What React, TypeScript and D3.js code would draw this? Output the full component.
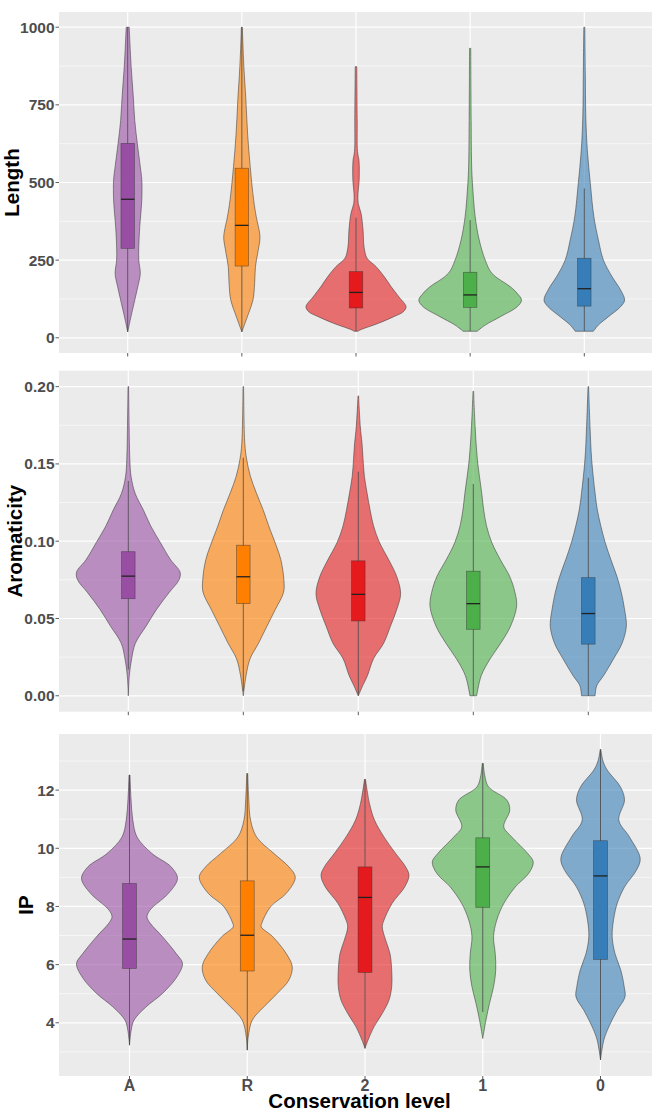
import React from "react";
import * as d3 from "d3";

const CATS = ["A", "R", "2", "1", "0"];
const COLORS = ["#984EA3", "#FF7F00", "#E41A1C", "#4DAF4A", "#377EB8"];

// ---- Length: violin profiles [value, density] ----
const lenA = [[19,0],[57,2.5],[79,4],[121,7],[164,10],[207,12.5],[250,11],[293,11],[358,12],[444,14],[508,14],[551,12.5],[627,9.5],[700,7],[780,5.5],[870,3.5],[950,2.2],[1000,1.5]];
const lenR = [[19,0],[46,3],[79,6.7],[121,11],[175,12.7],[229,13.5],[272,15.7],[320,18],[340,17.5],[390,14.3],[444,11.7],[551,8.3],[658,5.7],[766,4],[873,2],[950,1],[1000,0.5]];
const len2 = [[21,2],[25,4],[46,21.7],[68,37.5],[84,47],[100,49.7],[132,42.5],[164,35],[197,28],[229,20],[256,11],[293,8],[347,7],[401,5],[433,2.2],[465,2],[500,3],[530,3.3],[570,3],[600,1.5],[700,1.2],[873,0.8]];
const len1 = [[21,7],[41,15],[68,30],[100,46.7],[121,51],[143,46.7],[164,40],[207,21.7],[250,15],[315,9],[390,5],[497,2.3],[551,1.5],[700,1],[932,0.6]];
const len0 = [[21,9],[41,14],[68,24],[100,36],[121,40],[154,36],[197,27.5],[250,19],[315,14],[390,9.5],[497,6],[605,3],[712,1.5],[850,1],[1000,0.5]];
// box stats: [whiskerLow, q1, median, q3, whiskerHigh]
const lenBox = [[19,288,446,626,1000],[19,231,362,546,1000],[21,96,146,213,387],[21,98,138,211,379],[21,102,158,256,481]];
const lenTicks = [0, 250, 500, 750, 1000];
const lenMinor = [125, 375, 625, 875];

// ---- Aromaticity ----
const aroA = [[0,0],[0.013,1],[0.024,3.3],[0.034,7],[0.045,17.5],[0.056,28],[0.067,40.5],[0.075,50],[0.080,51],[0.088,41.7],[0.099,31.7],[0.110,22],[0.120,15],[0.131,6.7],[0.142,2.7],[0.153,1.5],[0.175,0.8],[0.2,0.3]];
const aroR = [[0,0],[0.013,2.7],[0.024,6.7],[0.034,15],[0.045,23.3],[0.056,31.7],[0.067,39.7],[0.075,40],[0.088,37],[0.097,32.5],[0.110,25],[0.120,19.7],[0.131,13],[0.142,7],[0.153,3.3],[0.163,1.5],[0.2,0.3]];
const aro2 = [[0,0],[0.0065,4.3],[0.013,9],[0.024,15],[0.034,25],[0.045,31.7],[0.056,38],[0.066,41.7],[0.077,38],[0.088,30],[0.099,21],[0.110,15],[0.120,11.7],[0.131,8.7],[0.142,6],[0.153,4.7],[0.163,3.7],[0.174,2],[0.194,0.3]];
const aro1 = [[0,3.3],[0.013,7.8],[0.024,16.7],[0.034,27],[0.045,36.7],[0.058,42.7],[0.067,41],[0.077,36],[0.088,26.7],[0.099,18.3],[0.110,13],[0.120,10.3],[0.131,8.3],[0.153,4],[0.174,1.8],[0.197,0.3]];
const aro0 = [[0,6.7],[0.0065,8.3],[0.013,15],[0.024,25],[0.034,33.3],[0.045,37.5],[0.056,35.7],[0.067,32.5],[0.077,28.3],[0.088,22.3],[0.099,16.7],[0.110,12.3],[0.120,9],[0.131,6.7],[0.153,3.3],[0.174,1.7],[0.2,0.3]];
const aroBox = [[0.017,0.0628,0.0774,0.0932,0.139],[0.003,0.0596,0.077,0.0974,0.154],[0,0.0484,0.0656,0.0873,0.145],[0,0.043,0.0596,0.0806,0.137],[0,0.0334,0.0532,0.0764,0.141]];
const aroTicks = [0, 0.05, 0.1, 0.15, 0.2];
const aroMinor = [0.025, 0.075, 0.125, 0.175];

// ---- IP ----
const ipA = [[3.23,0],[3.75,1.7],[4.09,4.5],[4.55,16.7],[5.01,33],[5.58,47.5],[6.04,53],[6.38,46.7],[6.96,33],[7.42,20.8],[7.64,17.5],[7.85,20],[7.99,23.7],[8.45,39],[8.96,48],[9.36,41.7],[9.82,22.5],[10.39,7.5],[10.97,3.3],[11.7,1.5],[12.52,0.5]];
const ipR = [[3.06,0],[3.52,1],[4.09,5],[4.55,16.7],[5.01,30],[5.47,41.7],[5.93,45],[6.38,39],[6.96,25.5],[7.3,14],[7.42,14.5],[7.99,23.3],[8.45,39],[9.0,48],[9.36,41.7],[9.82,26.7],[10.39,9.3],[10.97,3.3],[11.7,1.5],[12.57,0.5]];
const ip2 = [[3.12,0],[3.40,3],[3.86,9],[4.32,17.3],[4.78,24],[5.24,26.7],[5.81,26.7],[6.38,25],[6.84,20.7],[7.3,17.3],[7.53,19],[8.1,27],[8.67,39.7],[9.07,44],[9.36,40.7],[9.82,30.7],[10.39,19],[10.97,9.5],[11.54,4.5],[12.37,0.5]];
const ip1 = [[3.46,0],[4.09,3.2],[4.66,6.7],[5.24,10.8],[5.81,13],[6.38,12.5],[6.96,10.8],[7.53,14],[8.1,21],[8.67,32.5],[9.14,46],[9.53,50.5],[9.82,45],[10.39,29],[10.74,21],[11.31,27],[11.66,24],[12.11,5.8],[12.5,2],[12.92,0.5]];
const ip0 = [[2.72,0],[3.40,3.3],[3.86,8.3],[4.43,16.7],[4.89,24.5],[5.24,23.7],[5.81,20.3],[6.38,14.5],[6.96,11.7],[7.53,13],[8.1,16.7],[8.67,24],[9.25,36],[9.65,39.7],[10.39,29],[10.97,18.3],[11.66,24],[12.11,20],[12.69,6.7],[13.0,2.5],[13.40,0.3]];
const ipBox = [[3.23,5.87,6.88,8.79,12.52],[3.06,5.78,7.01,8.88,12.57],[3.12,5.73,8.31,9.36,12.37],[4.37,7.97,9.36,10.36,12.92],[2.72,6.18,9.05,10.26,13.40]];
const ipTicks = [4, 6, 8, 10, 12];
const ipMinor = [3, 5, 7, 9, 11, 13];

const PANELS = [
  { title: "Length", violins: [lenA, lenR, len2, len1, len0], box: lenBox, ticks: lenTicks, minor: lenMinor, fmt: (v: number) => String(v),
    yDom: [-49, 1049], top: 12, bottom: 353, xr: [127.7, 584.3], dmax: 51, titleX: 19 },
  { title: "Aromaticity", violins: [aroA, aroR, aro2, aro1, aro0], box: aroBox, ticks: aroTicks, minor: aroMinor, fmt: (v: number) => v.toFixed(2),
    yDom: [-0.0103, 0.2103], top: 370.7, bottom: 711.7, xr: [128.3, 588.3], dmax: 51, titleX: 22 },
  { title: "IP", violins: [ipA, ipR, ip2, ip1, ip0], box: ipBox, ticks: ipTicks, minor: ipMinor, fmt: (v: number) => String(v),
    yDom: [2.17, 13.93], top: 734, bottom: 1076, xr: [129.5, 600.5], dmax: 53, titleX: 33 },
];

const LEFT = 59;
const RIGHT = 652;
const FONT = "'Liberation Sans', Arial, Helvetica, sans-serif";

function Panel({ p, last }: { p: any; last: boolean }) {
  const y = d3.scaleLinear().domain(p.yDom).range([p.bottom, p.top]);
  const x = d3.scalePoint<string>().domain(CATS).range(p.xr);
  const step = x.step();
  const w = d3.scaleLinear().domain([0, p.dmax]).range([0, 0.45 * step]);
  const bw = 0.118 * step;
  const mid = (p.top + p.bottom) / 2;
  return (
    <g>
      <rect x={LEFT} y={p.top} width={RIGHT - LEFT} height={p.bottom - p.top} fill="#EBEBEB" />
      {p.minor.map((v: number) => (
        <line key={"mn" + v} x1={LEFT} x2={RIGHT} y1={y(v)} y2={y(v)} stroke="#fff" strokeWidth={0.6} />
      ))}
      {p.ticks.map((v: number) => (
        <line key={"mj" + v} x1={LEFT} x2={RIGHT} y1={y(v)} y2={y(v)} stroke="#fff" strokeWidth={1.2} />
      ))}
      {CATS.map((c) => (
        <line key={"vx" + c} x1={x(c)} x2={x(c)} y1={p.top} y2={p.bottom} stroke="#fff" strokeWidth={1.2} />
      ))}
      {CATS.map((c, i) => {
        const cx = x(c) as number;
        const area = d3
          .area<number[]>()
          .curve(d3.curveCatmullRom.alpha(0.5))
          .y((d) => y(d[0]))
          .x0((d) => cx - w(d[1]))
          .x1((d) => cx + w(d[1]));
        const b = p.box[i];
        return (
          <g key={"v" + c}>
            <path d={area(p.violins[i]) || ""} fill={COLORS[i]} fillOpacity={0.6} stroke="#333" strokeOpacity={0.8} strokeWidth={0.65} />
            <line x1={cx} x2={cx} y1={y(b[0])} y2={y(b[4])} stroke="#444" strokeWidth={0.8} />
            <rect x={cx - bw / 2} y={y(b[3])} width={bw} height={y(b[1]) - y(b[3])} fill={COLORS[i]} stroke="#333" strokeOpacity={0.6} strokeWidth={0.7} />
            <line x1={cx - bw / 2} x2={cx + bw / 2} y1={y(b[2])} y2={y(b[2])} stroke="#222" strokeWidth={1.3} />
          </g>
        );
      })}
      {p.ticks.map((v: number) => (
        <g key={"t" + v}>
          <line x1={LEFT - 3.5} x2={LEFT} y1={y(v)} y2={y(v)} stroke="#333" strokeWidth={0.8} />
          <text x={LEFT - 4.5} y={y(v)} dy="0.36em" textAnchor="end" fontFamily={FONT} fontWeight="bold" fontSize={15.5} fill="#4D4D4D">
            {p.fmt(v)}
          </text>
        </g>
      ))}
      {CATS.map((c) => (
        <line key={"xt" + c} x1={x(c)} x2={x(c)} y1={p.bottom} y2={p.bottom + 3.5} stroke="#333" strokeWidth={0.8} />
      ))}
      {last &&
        CATS.map((c) => (
          <text key={"xl" + c} x={x(c)} y={p.bottom + 14.5} textAnchor="middle" fontFamily={FONT} fontWeight="bold" fontSize={16} fill="#4D4D4D">
            {c}
          </text>
        ))}
      <text
        transform={`translate(${p.titleX},${mid}) rotate(-90)`}
        textAnchor="middle"
        fontFamily={FONT}
        fontWeight="bold"
        fontSize={20.5}
        fill="#000"
      >
        {p.title}
      </text>
    </g>
  );
}

export default function App() {
  return (
    <svg width={660} height={1111} style={{ position: "absolute", left: 0, top: 0, background: "#fff" }}>
      {PANELS.map((p, i) => (
        <Panel key={p.title} p={p} last={i === PANELS.length - 1} />
      ))}
      <text x={359.5} y={1107.5} textAnchor="middle" fontFamily={FONT} fontWeight="bold" fontSize={20.5} fill="#000">
        Conservation level
      </text>
    </svg>
  );
}
